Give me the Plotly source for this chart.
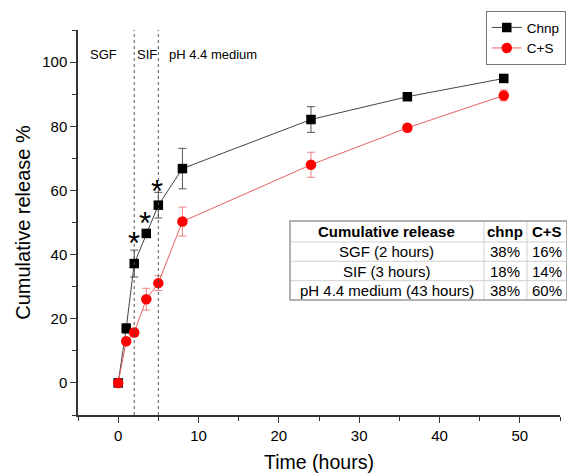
import plotly.graph_objects as go

# ---- data ----
time_h = [0, 1, 2, 3.5, 5, 8, 24, 36, 48]
chnp = [0, 17, 37.2, 46.6, 55.4, 66.8, 82.1, 89.2, 94.9]
chnp_err = [0.5, 1.5, 4.2, 1.0, 4.0, 6.3, 4.0, 1.0, 1.0]
cs = [0, 13, 15.7, 26.1, 31.1, 50.3, 68.0, 79.5, 89.6]
cs_err = [0.5, 1.0, 1.0, 3.4, 2.3, 4.5, 3.9, 1.2, 1.7]

sig_t = [2, 3.4, 4.8]
sig_y = [45.3, 51.7, 61.5]

phase_bounds = [2, 5]
phase_labels = ["SGF", "SIF", "pH 4.4 medium"]
phase_label_x = [-1.8, 3.55, 6.1]

table_header = ["Cumulative release", "chnp", "C+S"]
table_phase = ["SGF (2 hours)", "SIF (3 hours)", "pH 4.4 medium (43 hours)"]
table_chnp = ["38%", "18%", "38%"]
table_cs = ["16%", "14%", "60%"]

FONT = "Liberation Sans, Arial, sans-serif"

fig = go.Figure()

fig.add_trace(go.Scatter(
    x=time_h, y=chnp, name="Chnp", mode="lines+markers",
    line=dict(color="#444444", width=1),
    marker=dict(symbol="square", size=9.5, color="black"),
    error_y=dict(type="data", array=chnp_err, color="#555555", thickness=1, width=4),
))
fig.add_trace(go.Scatter(
    x=time_h, y=cs, name="C+S", mode="lines+markers",
    line=dict(color="#e86060", width=1),
    marker=dict(symbol="circle", size=10.5, color="#ff0000"),
    error_y=dict(type="data", array=cs_err, color="#ee8080", thickness=1, width=4),
))

shapes = []
for b in phase_bounds:
    shapes.append(dict(type="line", xref="x", yref="paper", x0=b, x1=b, y0=0, y1=1,
                       line=dict(color="#555555", width=1, dash="dot")))

annotations = []
for t, y in zip(sig_t, sig_y):
    annotations.append(dict(x=t, y=y, xref="x", yref="y", text="*", showarrow=False,
                            font=dict(family=FONT, size=31, color="black"),
                            yanchor="middle", yshift=-6))
for lab, lx in zip(phase_labels, phase_label_x):
    annotations.append(dict(x=lx, y=0.961, xref="x", yref="paper", text=lab, showarrow=False,
                            xanchor="left" if lab.startswith("pH") else "center",
                            font=dict(family=FONT, size=13, color="black")))

# ---- inset table (paper coordinates) ----
tx = [0.4398, 0.8423, 0.9315, 1.0145]          # column edges
ty = [0.5039, 0.4494, 0.3992, 0.3488, 0.2987]  # row edges (top to bottom)
for xe in tx[1:-1]:
    shapes.append(dict(type="line", xref="paper", yref="paper", x0=xe, x1=xe, y0=ty[-1], y1=ty[0],
                       line=dict(color="#d0d0d0", width=1)))
for ye in ty[1:-1]:
    shapes.append(dict(type="line", xref="paper", yref="paper", x0=tx[0], x1=tx[-1], y0=ye, y1=ye,
                       line=dict(color="#d0d0d0", width=1)))
shapes.append(dict(type="rect", xref="paper", yref="paper", x0=tx[0], x1=tx[-1], y0=ty[-1], y1=ty[0],
                   line=dict(color="#999999", width=1.5), fillcolor="rgba(0,0,0,0)"))

rows = [["<b>%s</b>" % h for h in table_header]] + [list(r) for r in zip(table_phase, table_chnp, table_cs)]
for ri, row in enumerate(rows):
    yc = (ty[ri] + ty[ri + 1]) / 2
    for ci, txt in enumerate(row):
        xc = (tx[ci] + tx[ci + 1]) / 2
        annotations.append(dict(x=xc, y=yc, xref="paper", yref="paper", text=txt, showarrow=False,
                                xanchor="center", yanchor="middle",
                                font=dict(family=FONT, size=15, color="black")))

fig.update_layout(
    width=575, height=475,
    margin=dict(l=70, r=23, t=22, b=68, autoexpand=False),
    paper_bgcolor="white", plot_bgcolor="white",
    font=dict(family=FONT, size=15, color="black"),
    showlegend=True,
    legend=dict(x=0.846, y=1.049, xanchor="left", yanchor="top",
                bordercolor="#777777", borderwidth=1, bgcolor="white",
                font=dict(family=FONT, size=13.5), tracegroupgap=0,
                itemwidth=30),
    shapes=shapes,
    annotations=annotations,
    xaxis=dict(range=[-5, 55], dtick=10, tick0=0,
               showline=True, linecolor="#333333", linewidth=1.5,
               ticks="outside", ticklen=6, tickcolor="#333333",
               minor=dict(dtick=5, ticks="outside", ticklen=4, tickcolor="#333333"),
               showgrid=False, zeroline=False,
               title=dict(text="Time (hours)", font=dict(size=19.5), standoff=13)),
    yaxis=dict(range=[-10, 110], dtick=20, tick0=0,
               showline=True, linecolor="#333333", linewidth=1.5,
               ticks="outside", ticklen=6, tickcolor="#333333",
               minor=dict(dtick=10, ticks="outside", ticklen=4, tickcolor="#333333"),
               showgrid=False, zeroline=False,
               title=dict(text="Cumulative release %", font=dict(size=20), standoff=6)),
)

fig.write_html("out.html")
